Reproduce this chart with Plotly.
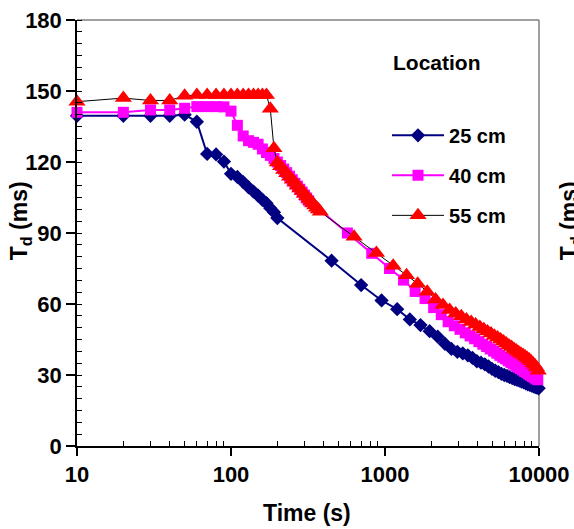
import plotly.graph_objects as go

# ---------------- data ----------------
t_25 = [10, 20, 30, 40, 50, 60, 70, 80, 90, 100, 110, 120, 130, 140, 150, 160, 170, 180, 190, 200,
        450, 700, 950, 1200, 1450, 1700, 1950, 2200, 2450, 2700, 2950, 3200, 3450, 3700, 3950, 4200,
        4450, 4700, 4950, 5200, 5450, 5700, 5950, 6200, 6450, 6700, 6950, 7200, 7450, 7700, 7950,
        8200, 8450, 8700, 8950, 9200, 9450, 9700, 9950]
td_25 = [139.5, 139.5, 139.5, 139.5, 140, 137, 123.4, 123.2, 120.2, 115, 113.7, 111.5, 109.3, 107.5,
         105.8, 104, 102.6, 100.5, 98.8, 96.3,
         78.3, 68, 61.5, 57.8, 53.5, 51.1, 48.5, 46.2, 43.2, 41, 39.8, 39.1, 38.3, 37.2, 35.8, 35.2,
         34.5, 33.6, 32.6, 31.8, 31.2, 30.5, 30, 29.6, 29.1, 28.7, 28.3, 27.9, 27.6, 27.2, 26.9,
         26.5, 26.1, 25.8, 25.5, 25.2, 24.9, 24.7, 24.4]

t_40 = [10, 20, 30, 40, 50, 60, 70, 80, 90, 100, 110, 120, 130, 140, 150, 160, 170, 180, 190, 200,
        210, 220, 230, 240, 250, 260, 270, 280, 290, 300, 310, 320,
        570, 820, 1070, 1320, 1570, 1820, 2070, 2320, 2570, 2820, 3070, 3320, 3570, 3820, 4070,
        4320, 4570, 4820, 5070, 5320, 5570, 5820, 6070, 6320, 6570, 6820, 7070, 7320, 7570, 7820,
        8070, 8320, 8570, 8820, 9070, 9320, 9570, 9820]
td_40 = [141, 141, 142, 142, 142.7, 143.4, 143.4, 143.4, 143.3, 141.5, 135.5, 131, 129, 128.3, 127.5,
         125.5, 124, 122.8, 121.5, 120,
         118.5, 117, 115.5, 114, 112.5, 111, 109.8, 108.5, 107.3, 106, 104.8, 103.6,
         90, 81.4, 75, 70.1, 65.3, 62.3, 58.5, 55.5, 52.5, 50.8, 49.3, 47.8, 46.5, 45.3, 44.1,
         43.0, 42.0, 41.0, 40.1, 39.2, 38.3, 37.5, 36.8, 36.0, 35.3, 34.6, 34.0, 33.3, 32.7, 32.1,
         31.5, 31.0, 30.4, 29.9, 29.4, 28.9, 28.4, 28.0]

t_55 = [10, 20, 30, 40, 50, 60, 70, 80, 90, 100, 110, 120, 130, 140, 150, 160, 170, 180, 190, 200,
        210, 220, 230, 240, 250, 260, 270, 280, 290, 300, 310, 320, 330, 340, 350, 360, 370, 380,
        630, 880, 1130, 1380, 1630, 1880, 2130, 2380, 2630, 2880, 3130, 3380, 3630, 3880, 4130,
        4380, 4630, 4880, 5130, 5380, 5630, 5880, 6130, 6380, 6630, 6880, 7130, 7380, 7630, 7880,
        8130, 8380, 8630, 8880, 9130, 9380, 9630, 9880]
td_55 = [145.5, 147, 146, 146, 148, 148.3, 148.3, 148.3, 148.3, 148.3, 148.3, 148.3, 148.3, 148.3,
         148.3, 148.3, 148.3, 142.5, 125.8, 119.8,
         118.2, 116.6, 115.2, 113.8, 112.5, 111.2, 110.0, 108.8, 107.7, 106.6, 105.5, 104.5, 103.5,
         102.5, 101.6, 100.7, 99.9, 99.0,
         88.4, 81.6, 76.2, 72.2, 68.6, 65.2, 61.9, 59.6, 57.5, 56.0, 54.8, 53.5, 52.4, 51.3, 50.3,
         49.3, 48.4, 47.5, 46.6, 45.8, 45.0, 44.2, 43.3, 42.5, 41.8, 41.0, 40.3, 39.6, 39.0, 38.4,
         37.8, 37.2, 36.5, 35.8, 35.0, 34.2, 33.2, 31.8]

series_names = ["25 cm", "40 cm", "55 cm"]
x_ticks = [10, 100, 1000, 10000]
x_tick_labels = ["10", "100", "1000", "10000"]
x_minor = [20, 30, 40, 50, 60, 70, 80, 90, 200, 300, 400, 500, 600, 700, 800, 900,
           2000, 3000, 4000, 5000, 6000, 7000, 8000, 9000]
y_ticks = [0, 30, 60, 90, 120, 150, 180]

FONT = "Liberation Sans, Arial, sans-serif"

fig = go.Figure()
fig.add_trace(go.Scatter(
    x=t_25, y=td_25, name=series_names[0], mode="lines+markers", legendgroup="a",
    line=dict(color="#000080", width=2),
    marker=dict(symbol="diamond", size=11, color="#000080"),
    cliponaxis=False))
fig.add_trace(go.Scatter(
    x=t_40, y=td_40, name=series_names[1], mode="lines+markers", legendgroup="b",
    line=dict(color="#FF00FF", width=2),
    marker=dict(symbol="square", size=11, color="#FF00FF"),
    cliponaxis=False))
fig.add_trace(go.Scatter(
    x=t_55, y=td_55, name=series_names[2], mode="lines+markers", legendgroup="c",
    line=dict(color="#000000", width=1),
    marker=dict(symbol="triangle-up", size=15, color="#FF0000"),
    cliponaxis=False))

fig.update_layout(
    width=574, height=529,
    margin=dict(l=77, r=35, t=20, b=83),
    paper_bgcolor="white", plot_bgcolor="white",
    font=dict(family=FONT, color="black"),
    showlegend=True,
    legend=dict(x=0.671, y=0.775, xanchor="left", yanchor="top",
                bgcolor="rgba(0,0,0,0)", tracegroupgap=11, itemwidth=52,
                font=dict(family=FONT, size=20, color="black", weight="bold")),
    xaxis=dict(type="log", range=[1, 4], tickmode="array", tickvals=x_ticks,
               ticktext=x_tick_labels, ticks="outside", ticklen=8, tickwidth=1.5,
               tickcolor="black", showline=True, linecolor="black", linewidth=1.5,
               showgrid=False, zeroline=False, automargin=False,
               tickfont=dict(family=FONT, size=22, color="black", weight="bold"),
               minor=dict(tickmode="array", tickvals=x_minor, ticks="inside", ticklen=5,
                          tickwidth=1, tickcolor="black", showgrid=False)),
    yaxis=dict(range=[0, 180], tickmode="array", tickvals=y_ticks,
               ticks="outside", ticklen=9, tickwidth=1.5, tickcolor="black",
               showline=True, linecolor="black", linewidth=1.5,
               showgrid=False, zeroline=False, automargin=False,
               tickfont=dict(family=FONT, size=22, color="black", weight="bold"),
               minor=dict(dtick=5, ticks="inside", ticklen=5, tickwidth=1,
                          tickcolor="black", showgrid=False)),
)

# plot-area border (gray) on top and right
fig.add_shape(type="line", xref="paper", yref="paper", x0=0, x1=1, y0=1, y1=1,
              line=dict(color="#808080", width=1.5), layer="below")
fig.add_shape(type="line", xref="paper", yref="paper", x0=1, x1=1, y0=0, y1=1,
              line=dict(color="#808080", width=1.5), layer="below")

# axis titles
fig.add_annotation(text="Time (s)", xref="paper", yref="paper", x=0.498, y=-0.157,
                   showarrow=False, xanchor="center", yanchor="middle",
                   font=dict(family=FONT, size=23, color="black", weight="bold"))
fig.add_annotation(text="T<sub>d</sub> (ms)", xref="paper", yref="paper", x=-0.1234, y=0.53,
                   showarrow=False, textangle=-90, xanchor="center", yanchor="middle",
                   font=dict(family=FONT, size=23, color="black", weight="bold"))

fig.add_annotation(text="Location", xref="paper", yref="paper", x=0.779, y=0.9,
                   showarrow=False, xanchor="center", yanchor="middle",
                   font=dict(family=FONT, size=21, color="black", weight="bold"))

# neighbouring chart's axis title, cut by the image edge
fig.add_annotation(text="T<sub>d</sub> (ms)", xref="paper", yref="paper", x=1.067, y=0.53,
                   showarrow=False, textangle=-90, xanchor="center", yanchor="middle",
                   font=dict(family=FONT, size=23, color="black", weight="bold"))

fig.write_html("out.html", config={"displayModeBar": False},
               post_script="document.body.style.margin='0';")
